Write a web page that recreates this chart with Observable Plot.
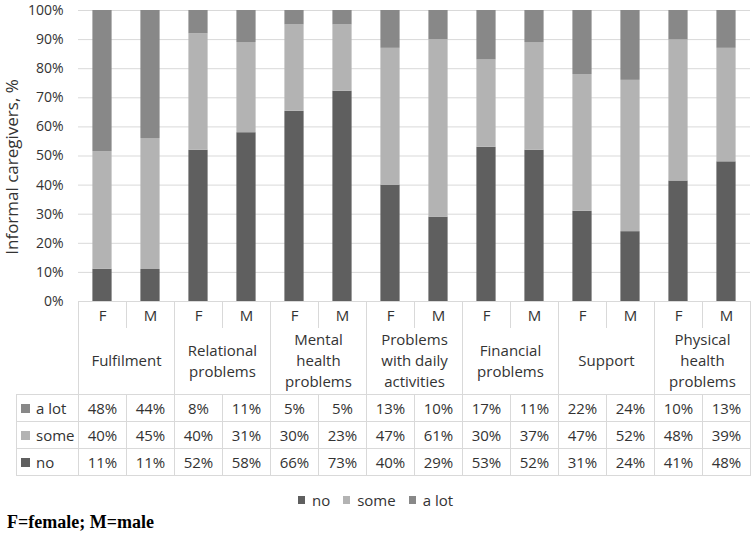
<!DOCTYPE html>
<html>
<head>
<meta charset="utf-8">
<script src="https://cdn.jsdelivr.net/npm/d3@7"></script>
<script src="https://cdn.jsdelivr.net/npm/@observablehq/plot@0.6"></script>
<style>
  html, body { margin: 0; padding: 0; background: #fff; }
  #wrap { position: relative; width: 751px; height: 535px; font-family: "Open Sans", sans-serif; color: #333; }
  #wrap svg { position: absolute; left: 0; top: 0; }
  .cell { position: absolute; box-sizing: border-box; border: 1px solid #d9d9d9; display: flex; align-items: center; justify-content: center; font-size: 15px; line-height: 21px; text-align: center; white-space: nowrap; }
  .sw { display: inline-block; }
</style>
</head>
<body>
<div id="wrap"></div>
<script>
// ---- data ----
const categories = ["Fulfilment", "Relational problems", "Mental health problems", "Problems with daily activities", "Financial problems", "Support", "Physical health problems"];
const categoryLines = [["Fulfilment"], ["Relational", "problems"], ["Mental", "health", "problems"], ["Problems", "with daily", "activities"], ["Financial", "problems"], ["Support"], ["Physical", "health", "problems"]];
const sexes = ["F", "M"];
const levels = ["no", "some", "a lot"];
const levelColors = ["#5f5f5f", "#b3b3b3", "#888888"];
const noValues   = [11, 11, 52, 58, 66, 73, 40, 29, 53, 52, 31, 24, 41, 48];
const someValues = [40, 45, 40, 31, 30, 23, 47, 61, 30, 37, 47, 52, 48, 39];
const aLotValues = [48, 44, 8, 11, 5, 5, 13, 10, 17, 11, 22, 24, 10, 13];
const yTicks = [0, 0.1, 0.2, 0.3, 0.4, 0.5, 0.6, 0.7, 0.8, 0.9, 1];
const yLabel = "Informal caregivers, %";
const caption = "F=female; M=male";

// ---- build table ----
const columns = [];
categories.forEach((c, ci) => sexes.forEach(s => columns.push({cat: c, ci, sex: s, key: c + "|" + s})));
const seriesByLevel = {"no": noValues, "some": someValues, "a lot": aLotValues};
const data = [];
columns.forEach((col, i) => levels.forEach(l => data.push({key: col.key, level: l, value: seriesByLevel[l][i]})));

const chart = Plot.plot({
  width: 751,
  height: 310,
  marginTop: 10,
  marginBottom: 9,
  marginLeft: 78,
  marginRight: 1,
  style: {fontFamily: "Open Sans, sans-serif", fontSize: "14px", color: "#333", background: "transparent"},
  x: {domain: columns.map(d => d.key), paddingInner: 0.6, paddingOuter: 0.3, round: false, axis: null},
  y: {domain: [0, 1], label: null},
  color: {domain: levels, range: levelColors},
  marks: [
    Plot.gridY(yTicks, {stroke: "#d9d9d9", strokeOpacity: 1, strokeWidth: 1}),
    Plot.barY(data, Plot.stackY({offset: "normalize", order: levels}, {x: "key", y: "value", fill: "level"})),
    Plot.axisY(yTicks, {tickSize: 0, tickPadding: 15, tickFormat: d3.format(".0%"), label: null, fill: "#333", fontSize: 14}),
    Plot.text([yLabel], {text: d => d, frameAnchor: "left", textAnchor: "middle", dx: -66, dy: 11, rotate: -90, fontSize: 17, fill: "#333"})
  ]
});

const wrap = document.getElementById("wrap");
wrap.appendChild(chart);

// ---- data table below the chart, aligned with the x scale ----
const xs = chart.scale("x");
const step = xs.step, bw = xs.bandwidth;
const colLeft = k => Math.round(xs.apply(k) - (step - bw) / 2);
const colW = Math.round(step);
const top0 = 301, h1 = 26, h2 = 67, hr = 27;
const labelLeft = 16;

function cell(left, top, width, height, html, borders) {
  const d = document.createElement("div");
  d.className = "cell";
  Object.assign(d.style, {left: left + "px", top: top + "px", width: width + "px", height: height + "px"});
  if (borders) Object.assign(d.style, borders);
  d.innerHTML = html;
  wrap.appendChild(d);
  return d;
}

columns.forEach(col => {
  cell(colLeft(col.key), top0, colW + 1, h1 + 1, col.sex, {borderBottom: "none"});
});
categories.forEach((c, ci) => {
  const l = colLeft(columns[ci * 2].key);
  cell(l, top0 + h1, colW * 2 + 1, h2 + 1, categoryLines[ci].join("<br>"), {borderTop: "none"});
});
const tableRows = ["a lot", "some", "no"];
tableRows.forEach((lvl, ri) => {
  const t = top0 + h1 + h2 + ri * hr;
  const color = levelColors[levels.indexOf(lvl)];
  const lab = cell(labelLeft, t, colLeft(columns[0].key) - labelLeft + 1, hr + 1,
    `<span class="sw" style="width:9px;height:9px;background:${color};margin-right:6px"></span>${lvl}`);
  lab.style.justifyContent = "flex-start";
  lab.style.paddingLeft = "4px";
  columns.forEach((col, i) => {
    cell(colLeft(col.key), t, colW + 1, hr + 1, seriesByLevel[lvl][i] + "%");
  });
});

// ---- legend ----
const legend = document.createElement("div");
Object.assign(legend.style, {position: "absolute", left: "0", width: "751px", top: "491px", height: "18px", display: "flex", justifyContent: "center", alignItems: "center", fontSize: "15px", lineHeight: "18px"});
levels.forEach((l, i) => {
  const it = document.createElement("span");
  Object.assign(it.style, {display: "inline-flex", alignItems: "center", marginRight: i < levels.length - 1 ? "13px" : "0"});
  it.innerHTML = `<span style="display:inline-block;width:7px;height:8px;background:${levelColors[i]};margin-right:7px"></span>${l}`;
  legend.appendChild(it);
});
wrap.appendChild(legend);

// ---- caption ----
const cap = document.createElement("div");
Object.assign(cap.style, {position: "absolute", left: "7px", top: "512px", fontFamily: "'Liberation Serif', 'Times New Roman', serif", fontWeight: "bold", fontSize: "18px", lineHeight: "20px", color: "#000"});
cap.textContent = caption;
wrap.appendChild(cap);
</script>
</body>
</html>
